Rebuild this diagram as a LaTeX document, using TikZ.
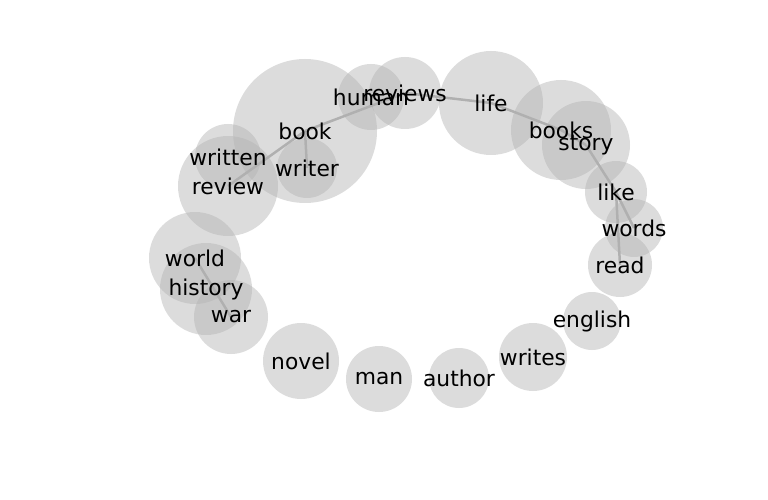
\documentclass[tikz,border=0pt]{standalone}
\usepackage{fontspec}
\setmainfont{DejaVu Sans}
\definecolor{bubble}{HTML}{B2B2B2}
\definecolor{link}{HTML}{8C8C8C}
\pgfdeclarelayer{edges}
\pgfdeclarelayer{bubbles}
\pgfsetlayers{edges,bubbles,main}

\begin{document}
\begin{tikzpicture}[x=1bp,y=-1bp,
  every node/.style={font=\fontsize{21.8bp}{25bp}\selectfont},
  word/.style={inner sep=0pt},
  bubble/.style={fill=bubble,fill opacity=0.45},
  link/.style={draw=link,opacity=0.7,line width=2.5bp}]
\useasboundingbox (0,0) rectangle (768,500);
\node[word] (book) at (305,131) {book};
\node[word] (writer) at (307,168) {writer};
\node[word] (written) at (228,157) {written};
\node[word] (review) at (228,186) {review};
\node[word] (human) at (371,97) {human};
\node[word] (reviews) at (405,93) {reviews};
\node[word] (life) at (491,103) {life};
\node[word] (books) at (561,130) {books};
\node[word] (story) at (586,145) {story};
\node[word] (like) at (616,192) {like};
\node[word] (words) at (634,228) {words};
\node[word] (read) at (620,265) {read};
\node[word] (english) at (592,321) {english};
\node[word] (writes) at (533,357) {writes};
\node[word] (author) at (459,378) {author};
\node[word] (man) at (379,379) {man};
\node[word] (novel) at (301,361) {novel};
\node[word] (world) at (195,258) {world};
\node[word] (history) at (206,289) {history};
\node[word] (war) at (231,317) {war};
% circles behind the words
\begin{pgfonlayer}{bubbles}
\foreach \w/\r in {book/72,writer/30,written/33,review/50,human/33,reviews/36,
  life/52,books/50,story/44,like/31,words/29,read/32,english/29,writes/34,
  author/30,man/33,novel/38,world/46,history/46,war/37}
  \fill[bubble] (\w.center) circle[radius=\r];
\end{pgfonlayer}
\begin{pgfonlayer}{edges}
\draw[link] (review.center) -- (book.center);
\draw[link] (book.center) -- (writer.center);
\draw[link] (book.center) -- (reviews.center);
\draw[link] (reviews.center) -- (life.center);
\draw[link] (life.center) -- (books.center);
\draw[link] (books.center) -- (story.center);
\draw[link] (story.center) -- (like.center);
\draw[link] (like.center) -- (words.center);
\draw[link] (like.center) -- (read.center);
\draw[link] (world.center) -- (war.center);
\end{pgfonlayer}
\end{tikzpicture}
\end{document}
